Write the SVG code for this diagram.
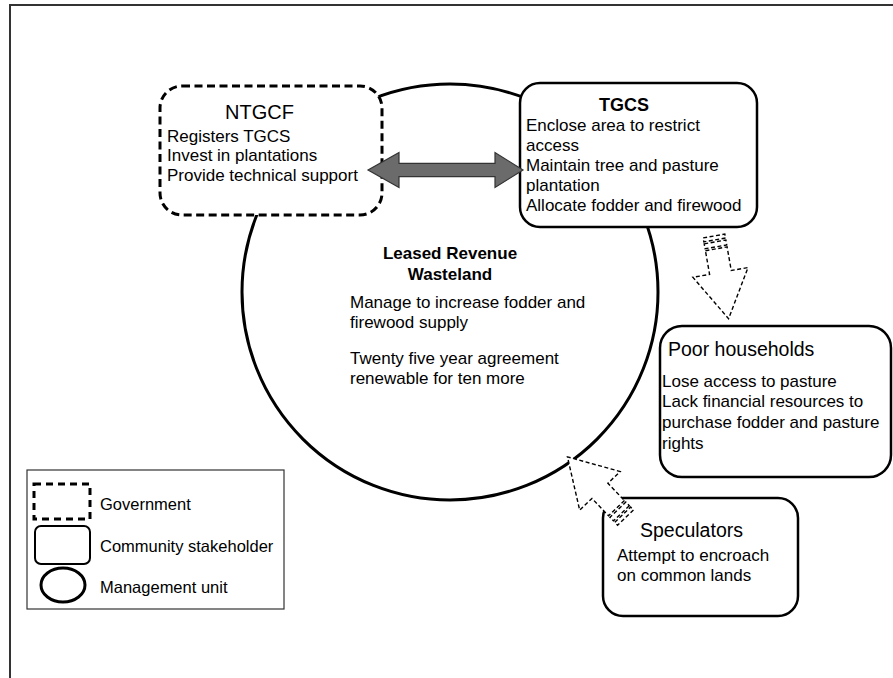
<svg xmlns="http://www.w3.org/2000/svg" width="893" height="678" viewBox="0 0 893 678">
<style>
text{font-family:"Liberation Sans",Arial,sans-serif;fill:#000}
.b{font-size:17px}
.t{font-size:19.5px}
.bold{font-weight:bold}
.box{fill:#fff;stroke:#000;stroke-width:2.5}
.gov{fill:#fff;stroke:#000;stroke-width:3;stroke-dasharray:8 4.5}
.darr{fill:#fff;stroke:#000;stroke-width:1.4;stroke-dasharray:4 2.5}
</style>
<defs>
<g id="striped">
<rect x="-11" y="0" width="22" height="4" class="darr"/>
<rect x="-11" y="6" width="22" height="5" class="darr"/>
<polygon points="-11,13 11,13 11,37 28,37 0,84 -28,37 -11,37" class="darr"/>
</g>
</defs>
<rect width="893" height="678" fill="#fff"/>
<g id="frame" stroke="#333" stroke-width="2" fill="none">
<line x1="9" y1="5" x2="893" y2="5"/>
<line x1="10" y1="5" x2="10" y2="678"/>
</g>
<g id="wasteland">
<circle cx="450" cy="292" r="208" fill="#fff" stroke="#000" stroke-width="3"/>
<text class="b bold" x="450" y="259" text-anchor="middle">Leased Revenue</text>
<text class="b bold" x="450" y="280" text-anchor="middle">Wasteland</text>
<text class="b" x="350" y="308">Manage to increase fodder and</text>
<text class="b" x="350" y="328">firewood supply</text>
<text class="b" x="350" y="364">Twenty five year agreement</text>
<text class="b" x="350" y="384">renewable for ten more</text>
</g>
<g id="ntgcf">
<rect x="160" y="86" width="222" height="129" rx="22" class="gov"/>
<text x="225" y="119" font-size="20">NTGCF</text>
<text class="b" x="167" y="142">Registers TGCS</text>
<text class="b" x="167" y="161">Invest in plantations</text>
<text class="b" x="167" y="181">Provide technical support</text>
</g>
<g id="tgcs">
<rect x="520" y="83" width="237" height="144" rx="20" class="box"/>
<text x="599" y="111" font-size="18" font-weight="bold">TGCS</text>
<text class="b" x="526" y="131">Enclose area to restrict</text>
<text class="b" x="526" y="151">access</text>
<text class="b" x="526" y="171">Maintain tree and pasture</text>
<text class="b" x="526" y="191">plantation</text>
<text class="b" x="526" y="211">Allocate fodder and firewood</text>
</g>
<g id="poor">
<rect x="660" y="326" width="231" height="151" rx="22" class="box"/>
<text class="t" x="668" y="356">Poor households</text>
<text class="b" x="662" y="387">Lose access to pasture</text>
<text class="b" x="662" y="407">Lack financial resources to</text>
<text class="b" x="662" y="428">purchase fodder and pasture</text>
<text class="b" x="662" y="449">rights</text>
</g>
<g id="speculators">
<rect x="603" y="498" width="195" height="118" rx="20" class="box"/>
<text class="t" x="640" y="537">Speculators</text>
<text class="b" x="617" y="561">Attempt to encroach</text>
<text class="b" x="617" y="581">on common lands</text>
</g>
<g id="connectors">
<polygon points="368,170 399,152.5 399,163.3 495,163.3 495,152.5 523,170 495,187.5 495,176.7 399,176.7 399,187.5" fill="#6b6b6b" stroke="#333" stroke-width="1.2"/>
<use href="#striped" transform="translate(714,236) rotate(-10)"/>
<use href="#striped" transform="translate(625.5,517.6) rotate(136.3)"/>
</g>
<g id="legend">
<rect x="27" y="470" width="257" height="139" fill="#fff" stroke="#333" stroke-width="1.2"/>
<rect x="34" y="484" width="56" height="35" fill="none" stroke="#000" stroke-width="3" stroke-dasharray="7 5"/>
<rect x="35" y="526" width="55" height="38" rx="6" fill="none" stroke="#000" stroke-width="2"/>
<ellipse cx="63" cy="585" rx="22" ry="17" fill="none" stroke="#000" stroke-width="3"/>
<text x="100" y="510" font-size="16.5">Government</text>
<text x="100" y="552" font-size="16.5">Community stakeholder</text>
<text x="100" y="593" font-size="16.5">Management unit</text>
</g>
</svg>
